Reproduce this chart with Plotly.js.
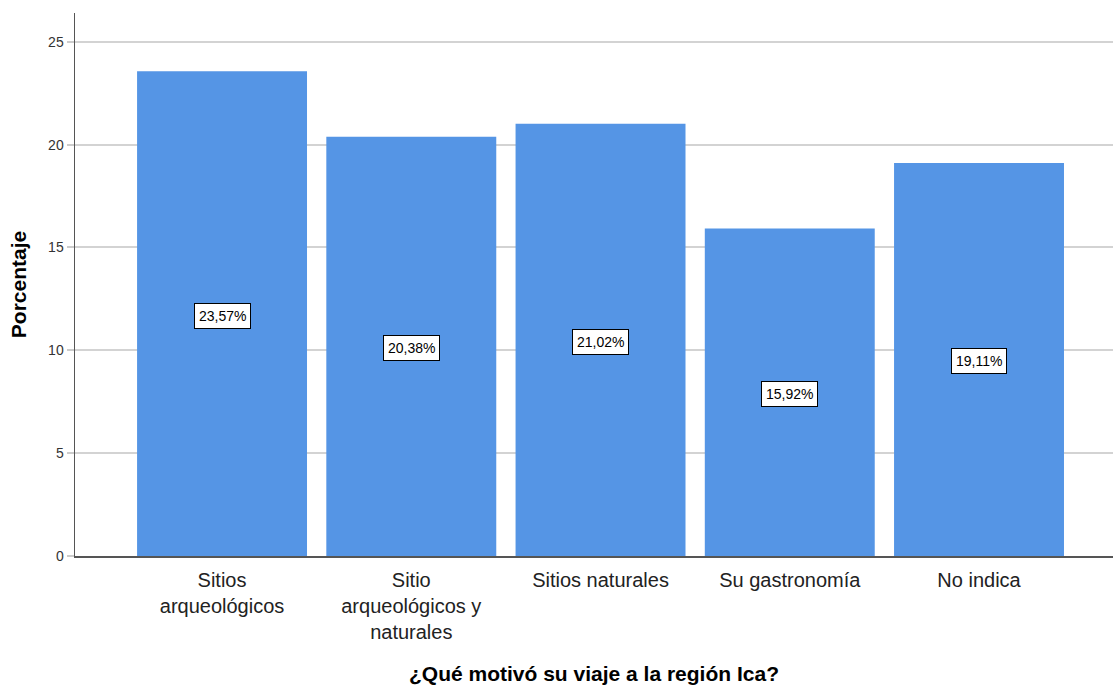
<!DOCTYPE html>
<html>
<head>
<meta charset="utf-8">
<script src="https://cdn.plot.ly/plotly-3.0.1.min.js"></script>
<style>html,body{margin:0;padding:0;background:#fff;}#chart{width:1113px;height:685px;}</style>
</head>
<body>
<div id="chart"></div>
<script>
const categories = ["Sitios<br>arqueológicos", "Sitio<br>arqueológicos y<br>naturales", "Sitios naturales", "Su gastronomía", "No indica"];
const values = [23.57, 20.38, 21.02, 15.92, 19.11];
const valueLabels = ["23,57%", "20,38%", "21,02%", "15,92%", "19,11%"];
const yTicks = [0, 5, 10, 15, 20, 25];

const FONT = "Liberation Sans, Arial, sans-serif";
const idx = categories.map((c, i) => i);

const trace = {
  type: "bar",
  x: idx,
  y: values,
  width: 0.898,
  marker: {color: "#5595e5", line: {width: 0}},
  hoverinfo: "none"
};

const annotations = values.map((v, i) => ({
  x: i, y: v / 2, xref: "x", yref: "y", yshift: -2,
  text: valueLabels[i], showarrow: false,
  font: {family: FONT, size: 14, color: "#000"},
  bgcolor: "#ffffff", bordercolor: "#000000", borderwidth: 1, borderpad: 4
}));

const layout = {
  width: 1113, height: 685,
  margin: {l: 75, r: 0, t: 13, b: 129},
  paper_bgcolor: "#fff", plot_bgcolor: "#fff",
  showlegend: false,
  font: {family: FONT},
  xaxis: {
    range: [-0.777, 4.708],
    tickmode: "array", tickvals: idx, ticktext: categories,
    ticks: "outside", ticklen: 5, tickcolor: "rgba(0,0,0,0)",
    showgrid: false, zeroline: false,
    showline: true, linecolor: "#555", linewidth: 1.5,
    tickfont: {family: FONT, size: 20, color: "#222"},
    automargin: false,
    title: {text: "¿Qué motivó su viaje a la región Ica?", font: {family: FONT, size: 21, color: "#000", weight: "bold"}, standoff: 28}
  },
  yaxis: {
    range: [0, 26.4],
    tickmode: "array", tickvals: yTicks, ticktext: yTicks.map(String),
    ticks: "outside", ticklen: 7, tickcolor: "#ccc", tickwidth: 2,
    showgrid: true, gridcolor: "#d3d3d3", gridwidth: 2,
    zeroline: false,
    showline: true, linecolor: "#555", linewidth: 1.5,
    tickfont: {family: FONT, size: 14, color: "#333"},
    automargin: false,
    title: {text: "Porcentaje", font: {family: FONT, size: 21, color: "#000", weight: "bold"}, standoff: 16}
  },
  annotations: annotations
};

Plotly.newPlot("chart", [trace], layout, {displayModeBar: false, staticPlot: true});
</script>
</body>
</html>
